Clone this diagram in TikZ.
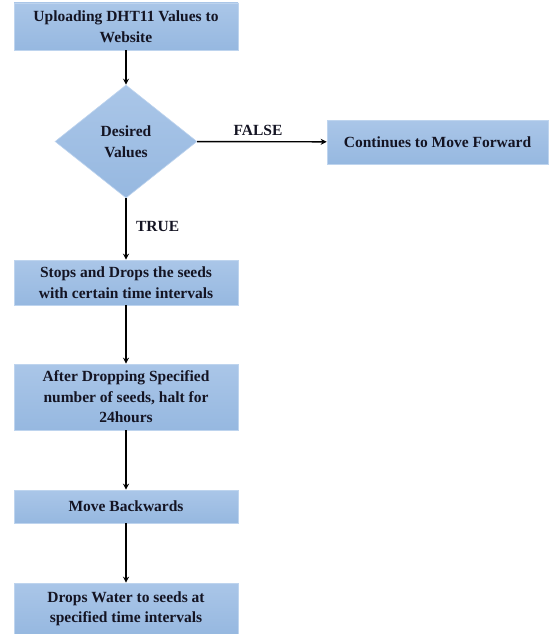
\documentclass[tikz,border=0pt]{standalone}
\usepackage{fontspec}
\setmainfont{Liberation Serif}
\usetikzlibrary{shapes.geometric,arrows.meta}
\definecolor{boxtop}{RGB}{170,198,232}
\definecolor{boxbot}{RGB}{150,184,224}
\definecolor{boxline}{RGB}{190,212,238}
\definecolor{txt}{RGB}{20,20,35}
\tikzset{
  box/.style={rectangle, top color=boxtop, bottom color=boxbot, draw=boxline, line width=0.6pt,
    align=center, font=\bfseries\fontsize{15.5}{20.5}\selectfont, text=txt, inner sep=0pt},
  dec/.style={diamond, top color=boxtop, bottom color=boxbot, draw=boxline, line width=0.6pt,
    align=center, font=\bfseries\fontsize{15.5}{20.5}\selectfont, text=txt, inner sep=0pt, aspect=1.21},
  conn/.style={line width=1.4pt, -{Stealth[length=6pt,width=6pt]}},
  lbl/.style={font=\bfseries\fontsize{15.5}{18}\selectfont, text=txt}
}
\begin{document}
\begin{tikzpicture}[x=1pt,y=-1pt]
\useasboundingbox (0,0) rectangle (549,634);
\node[box, minimum width=224pt, minimum height=47pt] (b1) at (126,26.5) {Uploading DHT11 Values to\\Website};
\node[dec, minimum width=142pt, minimum height=113pt] (d) at (126,141.5) {Desired\\Values};
\node[box, minimum width=221pt, minimum height=44pt] (c) at (437.5,142) {Continues to Move Forward};
\node[box, minimum width=224pt, minimum height=45pt] (b2) at (126,282.5) {Stops and Drops the seeds\\with certain time intervals};
\node[box, minimum width=224pt, minimum height=66pt] (b3) at (126,397) {After Dropping Specified\\number of seeds, halt for\\24hours};
\node[box, minimum width=224pt, minimum height=33pt] (b4) at (126,506.5) {Move Backwards};
\node[box, minimum width=224pt, minimum height=52pt] (b5) at (126,609) {Drops Water to seeds at\\specified time intervals};
\draw[conn] (b1) -- (d);
\draw[conn] (d) -- node[lbl, above, yshift=2pt, xshift=-4pt] (f) {FALSE} (c);
\draw[conn] (d) -- node[lbl, right, xshift=6pt, yshift=3pt] (t) {TRUE} (b2);
\draw[conn] (b2) -- (b3);
\draw[conn] (b3) -- (b4);
\draw[conn] (b4) -- (b5);
\end{tikzpicture}
\end{document}
